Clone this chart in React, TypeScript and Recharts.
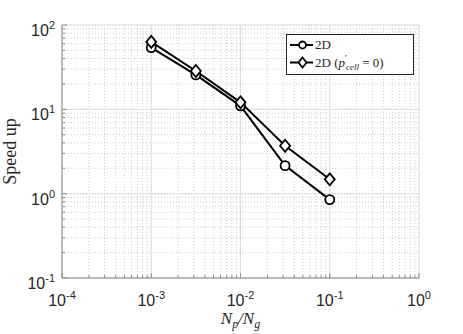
import {
  LineChart,
  Line,
  XAxis,
  YAxis,
  CartesianGrid,
  Legend,
} from 'recharts'

// N_p / N_g values and measured speed up
const ratio = [0.001, 0.00316, 0.01, 0.0316, 0.1]
const speedup2D = [54, 25.6, 11, 2.15, 0.85]
const speedupNoCell = [63, 28.5, 12.1, 3.7, 1.48]

// axis ticks
const xMajor = [0.0001, 0.001, 0.01, 0.1, 1]
const xExp = ['-4', '-3', '-2', '-1', '0']
const yMajor = [0.1, 1, 10, 100]
const yExp = ['-1', '0', '1', '2']
const minorSteps = [2, 3, 4, 5, 6, 7, 8, 9]

const withMinors = (majors: number[]) =>
  [...majors, ...majors.slice(0, -1).flatMap((d) => minorSteps.map((m) => d * m))].sort(
    (a, b) => a - b
  )
const xTicks = withMinors(xMajor)
const yTicks = withMinors(yMajor)

const data = ratio.map((x, i) => ({ x, a: speedup2D[i], b: speedupNoCell[i] }))

const AXIS = '#8c8c8c'
const TEXT = '#262626'
const SANS = '"Liberation Sans", Arial, sans-serif'
const SERIF = '"Liberation Serif", "Times New Roman", serif'

const majorIndex = (list: number[], v: number) =>
  list.findIndex((m) => Math.abs(m - v) / m < 1e-9)

function BottomTick({ x, y, payload }: any) {
  const i = majorIndex(xMajor, payload.value)
  return (
    <g>
      <line x1={x} x2={x} y1={y} y2={y - (i >= 0 ? 5 : 3)} stroke={AXIS} />
      {i >= 0 && (
        <text x={x} y={y + 28} textAnchor="middle" fontFamily={SANS} fontSize={16} fill={TEXT}>
          10
          <tspan dy={-7} fontSize={11}>
            {xExp[i]}
          </tspan>
        </text>
      )}
    </g>
  )
}

function TopTick({ x, y, payload }: any) {
  const major = majorIndex(xMajor, payload.value) >= 0
  return <line x1={x} x2={x} y1={y} y2={y + (major ? 5 : 3)} stroke={AXIS} />
}

function LeftTick({ x, y, payload }: any) {
  const i = majorIndex(yMajor, payload.value)
  return (
    <g>
      <line x1={x} x2={x + (i >= 0 ? 5 : 3)} y1={y} y2={y} stroke={AXIS} />
      {i >= 0 && (
        <text x={x - 7} y={y + 11} textAnchor="end" fontFamily={SANS} fontSize={16} fill={TEXT}>
          10
          <tspan dy={-7} fontSize={11}>
            {yExp[i]}
          </tspan>
        </text>
      )}
    </g>
  )
}

function RightTick({ x, y, payload }: any) {
  const major = majorIndex(yMajor, payload.value) >= 0
  return <line x1={x} x2={x - (major ? 5 : 3)} y1={y} y2={y} stroke={AXIS} />
}

function XTitle({ viewBox }: any) {
  const cx = viewBox.x + viewBox.width / 2
  return (
    <text x={cx} y={viewBox.y + 46} textAnchor="middle" fontFamily={SERIF} fontSize={17} fill={TEXT} fontStyle="italic">
      N<tspan dy={4} fontSize={12}>p</tspan>
      <tspan dy={-4}>/N</tspan>
      <tspan dy={4} fontSize={12}>g</tspan>
    </text>
  )
}

function YTitle({ viewBox }: any) {
  const cy = viewBox.y + viewBox.height / 2
  return (
    <text x={16} y={cy} transform={`rotate(-90, 16, ${cy})`} textAnchor="middle" fontFamily={SERIF} fontSize={18} fill={TEXT}>
      Speed up
    </text>
  )
}

const Circle = ({ cx, cy, index }: any) => (
  <circle key={`c${index}`} cx={cx} cy={cy} r={4.5} fill="#fff" stroke="#000" strokeWidth={1.8} />
)

const Diamond = ({ cx, cy, index }: any) => (
  <polygon
    key={`d${index}`}
    points={`${cx},${cy - 6} ${cx + 5},${cy} ${cx},${cy + 6} ${cx - 5},${cy}`}
    fill="#fff"
    stroke="#000"
    strokeWidth={1.8}
  />
)

function LegendBox() {
  return (
    <svg width={128} height={41} style={{ display: 'block' }}>
      <rect x={0.5} y={0.5} width={127} height={40} fill="#fff" stroke="#262626" />
      <line x1={4} x2={27} y1={11} y2={11} stroke="#000" strokeWidth={2} />
      <circle cx={16.5} cy={11} r={3.5} fill="#fff" stroke="#000" strokeWidth={1.8} />
      <text x={29} y={15} fontFamily={SERIF} fontSize={13} fill={TEXT}>
        2D
      </text>
      <line x1={4} x2={27} y1={28.5} y2={28.5} stroke="#000" strokeWidth={2} />
      <polygon points="16.5,23.5 20.5,28.5 16.5,33.5 12.5,28.5" fill="#fff" stroke="#000" strokeWidth={1.8} />
      <text x={29} y={33} fontFamily={SERIF} fontSize={13} fill={TEXT}>
        2D (<tspan fontStyle="italic">p</tspan>
        <tspan dy={-6} fontSize={9}>′</tspan>
        <tspan dx={-1} dy={9} fontSize={9} fontStyle="italic">cell</tspan>
        <tspan dy={-3}> = 0)</tspan>
      </text>
    </svg>
  )
}

export default function App() {
  return (
    <div style={{ position: 'fixed', left: 0, top: 0, width: 463, height: 334, background: '#fff' }}>
      <LineChart width={463} height={334} data={data} margin={{ top: 25, right: 44, left: 0, bottom: 0 }}>
        <CartesianGrid
          stroke="#cccccc"
          strokeDasharray="1 2"
          verticalValues={xTicks}
          horizontalValues={yTicks}
        />
        <CartesianGrid stroke="#dedede" verticalValues={xMajor} horizontalValues={yMajor} />
        <XAxis
          dataKey="x"
          type="number"
          scale="log"
          domain={[0.0001, 1]}
          allowDataOverflow
          ticks={xTicks}
          interval={0}
          tickSize={0}
          tickMargin={0}
          tick={<BottomTick />}
          height={56}
          stroke={AXIS}
          label={<XTitle />}
        />
        <XAxis
          xAxisId="top"
          orientation="top"
          dataKey="x"
          type="number"
          scale="log"
          domain={[0.0001, 1]}
          allowDataOverflow
          ticks={xTicks}
          interval={0}
          tickSize={0}
          tickMargin={0}
          tick={<TopTick />}
          height={0}
          stroke={AXIS}
        />
        <YAxis
          type="number"
          scale="log"
          domain={[0.1, 100]}
          allowDataOverflow
          ticks={yTicks}
          interval={0}
          tickSize={0}
          tickMargin={0}
          tick={<LeftTick />}
          width={62}
          stroke={AXIS}
          label={<YTitle />}
        />
        <YAxis
          yAxisId="right"
          orientation="right"
          type="number"
          scale="log"
          domain={[0.1, 100]}
          allowDataOverflow
          ticks={yTicks}
          interval={0}
          tickSize={0}
          tickMargin={0}
          tick={<RightTick />}
          width={0}
          stroke={AXIS}
        />
        <Legend
          layout="vertical"
          align="center"
          verticalAlign="middle"
          content={<LegendBox />}
          wrapperStyle={{ left: 286, top: 34, width: 128, height: 41 }}
        />
        <Line
          dataKey="a"
          name="2D"
          stroke="#000"
          strokeWidth={2}
          dot={Circle}
          isAnimationActive={false}
        />
        <Line
          dataKey="b"
          name="2D (p'cell = 0)"
          stroke="#000"
          strokeWidth={2}
          dot={Diamond}
          isAnimationActive={false}
        />
      </LineChart>
    </div>
  )
}
